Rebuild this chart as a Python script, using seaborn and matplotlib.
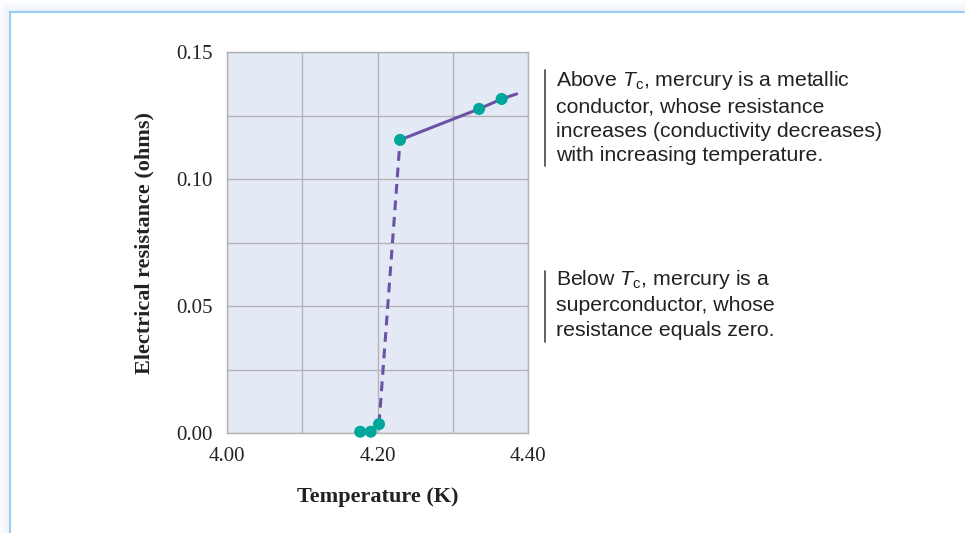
import matplotlib
matplotlib.use("Agg")
import matplotlib.pyplot as plt
import seaborn as sns
import pandas as pd
from matplotlib.patches import Rectangle
from matplotlib.lines import Line2D

# data
point_temp = [4.177, 4.191, 4.202, 4.230, 4.335, 4.365]
point_res = [0.0005, 0.0005, 0.0035, 0.1154, 0.1276, 0.1315]
dash_temp = [4.202, 4.230]
dash_res = [0.0035, 0.1154]
solid_temp = [4.230, 4.335, 4.365, 4.385]
solid_res = [0.1154, 0.1276, 0.1315, 0.1335]
x_ticks = [4.00, 4.10, 4.20, 4.30, 4.40]
x_tick_labels = ["4.00", "", "4.20", "", "4.40"]
y_ticks = [0.00, 0.025, 0.05, 0.075, 0.10, 0.125, 0.15]
y_tick_labels = ["0.00", "", "0.05", "", "0.10", "", "0.15"]
note_above = "Above $T_{\\mathrm{c}}$, mercury is a metallic\nconductor, whose resistance\nincreases (conductivity decreases)\nwith increasing temperature."
note_below = "Below $T_{\\mathrm{c}}$, mercury is a\nsuperconductor, whose\nresistance equals zero."

sns.set_theme(style="white")
plt.rcParams["mathtext.fontset"] = "custom"
plt.rcParams["mathtext.it"] = "Liberation Sans:italic"
plt.rcParams["mathtext.rm"] = "Liberation Sans"

W, H = 965, 533
fig = plt.figure(figsize=(W / 100, H / 100), dpi=100)
fig.patch.set_facecolor("white")

# frame with soft shadow
for i, a in enumerate([0.05, 0.08, 0.12, 0.18, 0.25]):
    off = (5 - i) * 2
    fig.patches.append(Rectangle(((10 - off) / W, -0.1), 2 / W + 2, 1 - (12 - off) / H + 0.1,
                                 transform=fig.transFigure, facecolor="none",
                                 edgecolor=(0.80, 0.85, 0.93, a), lw=2, zorder=0))
fig.patches.append(Rectangle((10 / W, -0.1), 2, 1 - 12 / H + 0.1, transform=fig.transFigure,
                             facecolor="white", edgecolor="#9ccbf0", lw=1.5, zorder=1))

ax = fig.add_axes([227 / W, 1 - 433 / H, (528 - 227) / W, (433 - 52) / H])
ax.set_zorder(2)
ax.set_facecolor("#e4eaf5")

df_dash = pd.DataFrame({"T": dash_temp, "R": dash_res})
df_solid = pd.DataFrame({"T": solid_temp, "R": solid_res})
df_pts = pd.DataFrame({"T": point_temp, "R": point_res})

purple = "#6b52a6"
teal = "#00a69a"
sns.lineplot(data=df_dash, x="T", y="R", ax=ax, color=purple, lw=2.2, sort=False,
             linestyle=(0, (3.2, 2.2)), zorder=3)
sns.lineplot(data=df_solid, x="T", y="R", ax=ax, color=purple, lw=2.2, sort=False, zorder=3)
sns.scatterplot(data=df_pts, x="T", y="R", ax=ax, color=teal, s=75, edgecolor="none",
                zorder=4, clip_on=False)

ax.set_xlim(4.0, 4.4)
ax.set_ylim(0.0, 0.15)
ax.set_xticks(x_ticks)
ax.set_xticklabels(x_tick_labels)
ax.set_yticks(y_ticks)
ax.set_yticklabels(y_tick_labels)
ax.grid(True, color="#b4b4b8", lw=1.0)
ax.set_axisbelow(True)
for s in ax.spines.values():
    s.set_color("#b4b4b8")
    s.set_linewidth(1.0)
ax.tick_params(axis="x", length=0, pad=10)
ax.tick_params(axis="y", length=0, pad=10)
for lbl in ax.get_xticklabels() + ax.get_yticklabels():
    lbl.set_fontfamily("Liberation Serif")
    lbl.set_fontsize(15)
    lbl.set_color("#222222")
ax.set_xlabel("Temperature (K)", fontfamily="Liberation Serif", fontweight="bold",
              fontsize=16, color="#222222", labelpad=15)
ax.set_ylabel("Electrical resistance (ohms)", fontfamily="Liberation Serif", fontweight="bold",
              fontsize=16, color="#222222", labelpad=16)

# annotations
fig.add_artist(Line2D([545 / W, 545 / W], [1 - 70 / H, 1 - 166 / H], color="#444444", lw=1.2))
fig.add_artist(Line2D([545 / W, 545 / W], [1 - 271 / H, 1 - 342 / H], color="#444444", lw=1.2))
fig.text(556 / W, 1 - 69 / H, note_above, ha="left", va="top", fontsize=15.3,
         fontfamily="Liberation Sans", color="#222222", linespacing=1.36)
fig.text(556 / W, 1 - 268 / H, note_below, ha="left", va="top", fontsize=15.3,
         fontfamily="Liberation Sans", color="#222222", linespacing=1.36)

fig.savefig("out.png", dpi=100)
